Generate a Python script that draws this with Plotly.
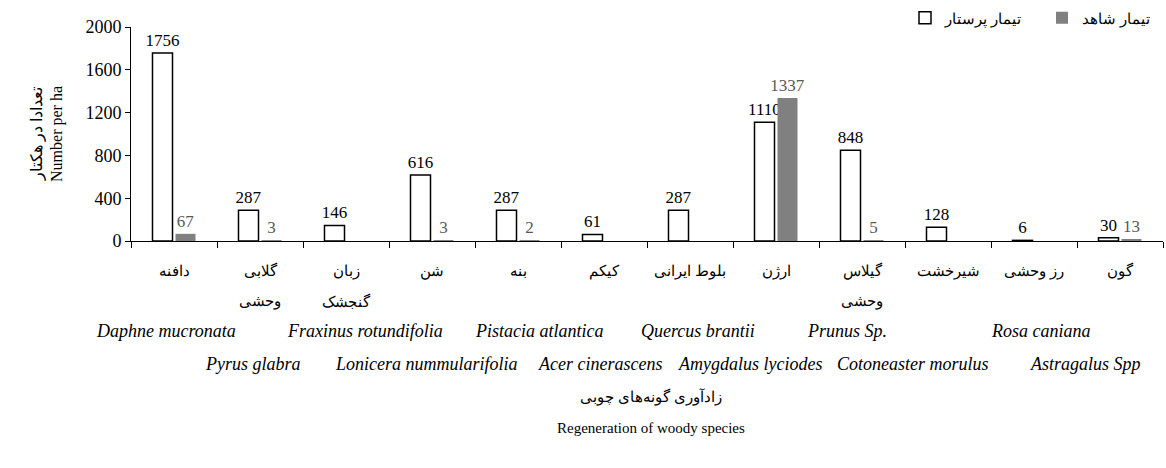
import plotly.graph_objects as go

# Persian species names (first line under axis) and the few second lines
nomes_fa = ["دافنه", "گلابی", "زبان", "شن", "بنه", "کیکم", "بلوط ایرانی",
            "ارژن", "گیلاس", "شیرخشت", "رز وحشی", "گون"]
segunda_linha = {"گلابی": "وحشی", "زبان": "گنجشک", "گیلاس": "وحشی"}

# Latin names, same order as the categories
nomes_lat = ["Daphne mucronata", "Pyrus glabra", "Fraxinus rotundifolia",
             "Lonicera nummularifolia", "Pistacia atlantica", "Acer cinerascens",
             "Quercus brantii", "Amygdalus lyciodes", "Prunus Sp.",
             "Cotoneaster morulus", "Rosa caniana", "Astragalus Spp"]

# valores (number per ha)
parastar = [1756, 287, 146, 616, 287, 61, 287, 1110, 848, 128, 6, 30]
shahed = [67, 3, None, 3, 2, None, None, 1337, 5, None, None, 13]

nome_parastar = "تیمار پرستار"
nome_shahed = "تیمار شاهد"

FONTE = "Liberation Serif, Times New Roman, serif"

# geometria do painel (px) -> usado so para posicionar textos
ALT, LARG = 468, 1166
M_L, M_R, M_T, M_B = 131, 3, 27, 227
alt_plot = ALT - M_T - M_B
larg_plot = LARG - M_L - M_R


def py(p):
    return (ALT - M_B - p) / alt_plot


def px_(p):
    return (p - M_L) / larg_plot


fig = go.Figure()
fig.add_trace(go.Bar(
    x=nomes_fa, y=parastar, name=nome_parastar,
    marker=dict(color="white", line=dict(color="black", width=1.5)),
    text=[str(v) for v in parastar], textposition="outside",
    textfont=dict(family=FONTE, size=17, color="black"),
    constraintext="none", cliponaxis=False,
))
fig.add_trace(go.Bar(
    x=nomes_fa, y=shahed, name=nome_shahed,
    marker=dict(color="#808080", line=dict(color="#808080", width=0)),
    text=["" if v is None else str(v) for v in shahed], textposition="outside",
    textfont=dict(family=FONTE, size=17, color="#595959"),
    constraintext="none", cliponaxis=False,
))

anots = []
# segunda linha dos nomes persas
for nome, extra in segunda_linha.items():
    anots.append(dict(x=nome, y=py(301), xref="x", yref="paper", text=extra,
                      xanchor="center", yanchor="middle", showarrow=False,
                      font=dict(family=FONTE, size=15, color="black")))

# nomes latinos em duas filas, centros aproximados em px
centros_lat = [166, 253, 365, 426, 539, 600, 698, 750, 847, 913, 1041, 1085]
for i, nome in enumerate(nomes_lat):
    linha_y = 331 if i % 2 == 0 else 364
    anots.append(dict(x=px_(centros_lat[i]), y=py(linha_y), xref="paper", yref="paper",
                      text="<i>" + nome + "</i>", showarrow=False,
                      xanchor="center", yanchor="middle",
                      font=dict(family=FONTE, size=18, color="black")))

anots.append(dict(x=px_(651), y=py(397), xref="paper", yref="paper",
                  text="زادآوری گونه‌های چوبی", showarrow=False,
                  xanchor="center", yanchor="middle",
                  font=dict(family=FONTE, size=15, color="black")))
anots.append(dict(x=px_(651), y=py(428), xref="paper", yref="paper",
                  text="Regeneration of woody species", showarrow=False,
                  xanchor="center", yanchor="middle",
                  font=dict(family=FONTE, size=15, color="black")))

fig.update_layout(
    width=LARG, height=ALT,
    margin=dict(l=M_L, r=M_R, t=M_T, b=M_B, autoexpand=False),
    paper_bgcolor="white", plot_bgcolor="white",
    barmode="group", bargap=0.465, bargroupgap=0.13,
    font=dict(family=FONTE, size=16, color="black"),
    showlegend=True,
    legend=dict(orientation="h", x=px_(905), xanchor="left", y=py(18), yanchor="middle",
                font=dict(family=FONTE, size=15), bgcolor="rgba(0,0,0,0)",
                itemwidth=30, entrywidth=92, entrywidthmode="pixels",
                traceorder="normal"),
    annotations=anots,
)
fig.update_xaxes(
    type="category", tickson="boundaries", ticks="outside", ticklen=6,
    tickcolor="black", showline=True, linecolor="black", linewidth=1,
    showgrid=False, ticklabelstandoff=16,
    tickfont=dict(family=FONTE, size=15, color="black"),
)
fig.update_yaxes(
    range=[0, 2000], tickvals=[0, 400, 800, 1200, 1600, 2000],
    ticks="outside", ticklen=5, tickcolor="black",
    showline=True, linecolor="black", linewidth=1, showgrid=False, zeroline=False,
    tickfont=dict(family=FONTE, size=18, color="black"),
    title=dict(text="تعدادا در هکتار<br>Number per ha",
               font=dict(family=FONTE, size=16, color="black"), standoff=18),
)

# tira a margem padrao do body para o grafico ficar no canto
fig.write_html("out.html", config={"displayModeBar": False},
               post_script="document.body.style.margin='0';")
